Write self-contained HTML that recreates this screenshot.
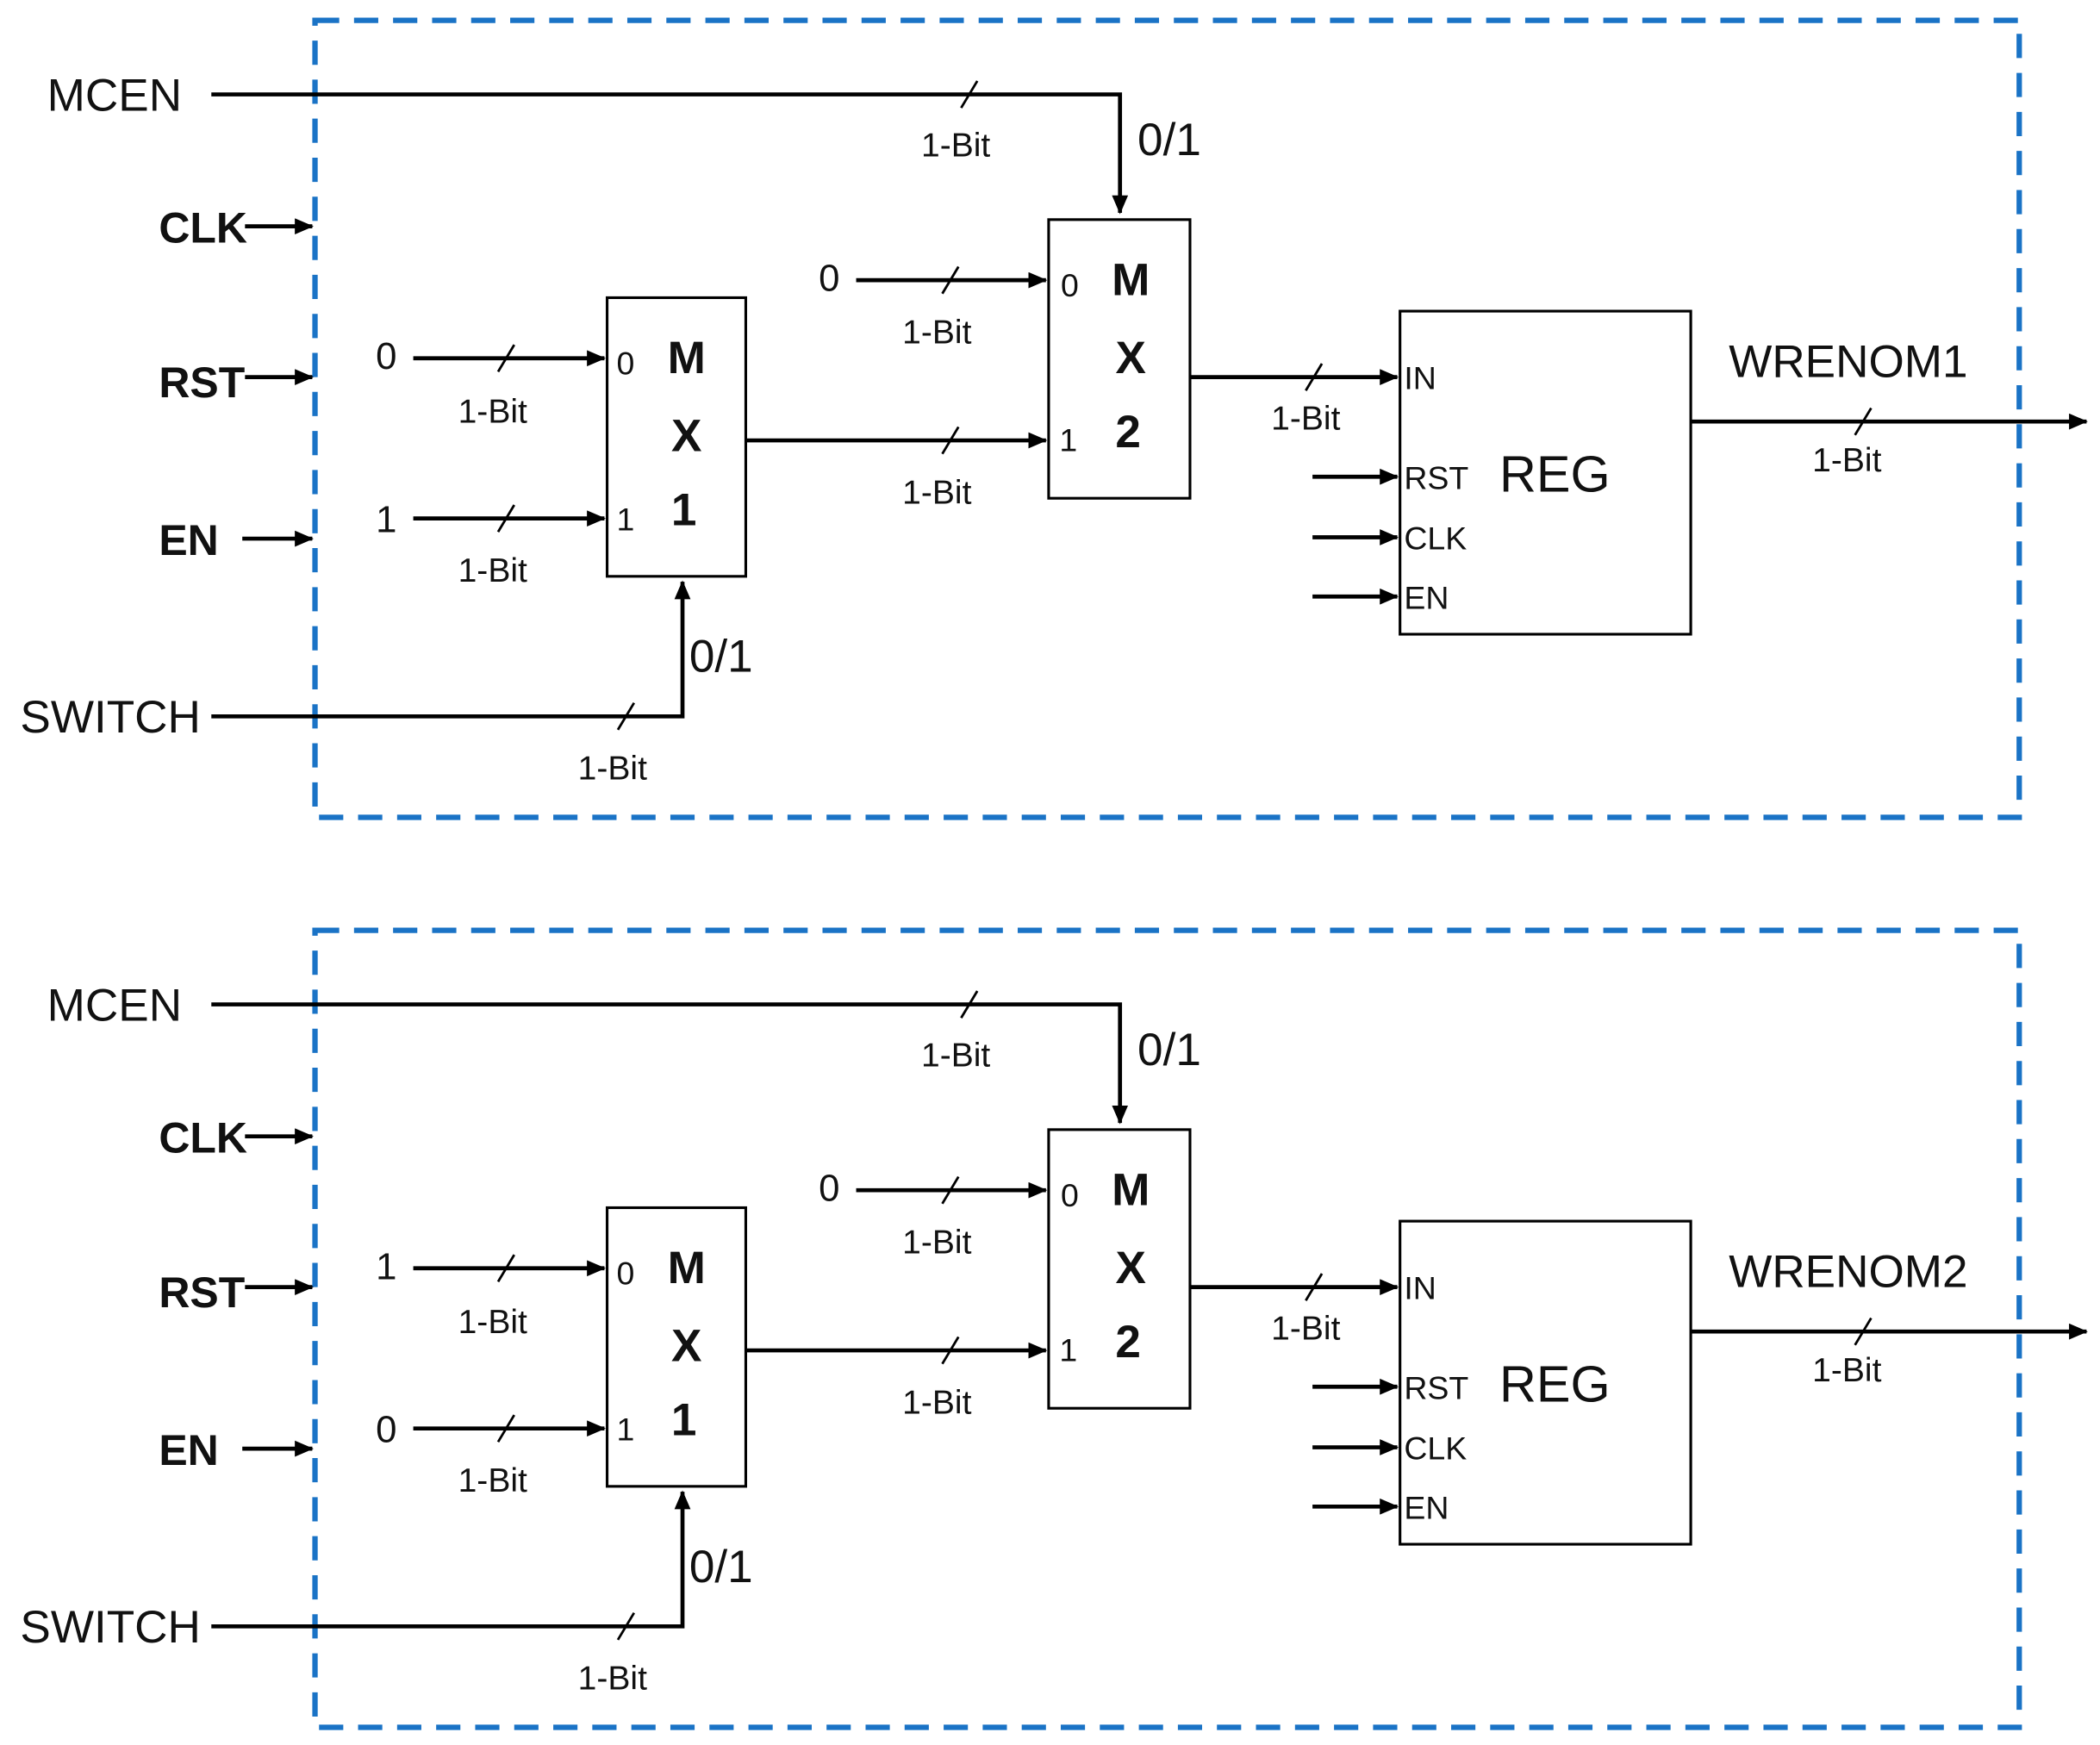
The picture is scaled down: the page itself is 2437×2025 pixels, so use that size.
<!DOCTYPE html>
<html><head><meta charset="utf-8"><style>
html,body{margin:0;padding:0;background:#fff;}
svg{display:block;}
text{font-family:"Liberation Sans",sans-serif;fill:#111;}
</style></head><body>
<svg width="2437" height="2025" viewBox="0 0 1560 1296" xmlns="http://www.w3.org/2000/svg">
<defs>
<marker id="a" markerWidth="14" markerHeight="12" refX="13" refY="6" orient="auto" markerUnits="userSpaceOnUse">
<path d="M0,0 L14,6 L0,12 Z" fill="#000"/></marker>
<g id="blk">
<rect x="234" y="15" width="1266" height="592" fill="none" stroke="#1a73c6" stroke-width="4" stroke-dasharray="18,11"/>
<g stroke="#000" stroke-width="3" fill="none">
<polyline points="157,70 832,70 832,158" marker-end="url(#a)"/>
<line x1="182" y1="168" x2="232" y2="168" marker-end="url(#a)"/>
<line x1="182" y1="280" x2="232" y2="280" marker-end="url(#a)"/>
<line x1="180" y1="400" x2="232" y2="400" marker-end="url(#a)"/>
<polyline points="157,532 507,532 507,432" marker-end="url(#a)"/>
<line x1="307" y1="266" x2="449" y2="266" marker-end="url(#a)"/>
<line x1="307" y1="385" x2="449" y2="385" marker-end="url(#a)"/>
<line x1="554" y1="327" x2="777" y2="327" marker-end="url(#a)"/>
<line x1="636" y1="208" x2="777" y2="208" marker-end="url(#a)"/>
<line x1="884" y1="280" x2="1038" y2="280" marker-end="url(#a)"/>
<line x1="975" y1="354" x2="1038" y2="354" marker-end="url(#a)"/>
<line x1="975" y1="399" x2="1038" y2="399" marker-end="url(#a)"/>
<line x1="975" y1="443" x2="1038" y2="443" marker-end="url(#a)"/>
<line x1="1256" y1="313" x2="1550" y2="313" marker-end="url(#a)"/>
</g>
<g stroke="#000" stroke-width="2" fill="#fff">
<rect x="451" y="221" width="103" height="207"/>
<rect x="779" y="163" width="105" height="207"/>
<rect x="1040" y="231" width="216" height="240"/>
</g>
<g stroke="#000" stroke-width="1.8">
<line x1="714" y1="80" x2="726" y2="60"/>
<line x1="459" y1="542" x2="471" y2="522"/>
<line x1="370" y1="276" x2="382" y2="256"/>
<line x1="370" y1="395" x2="382" y2="375"/>
<line x1="700" y1="337" x2="712" y2="317"/>
<line x1="700" y1="218" x2="712" y2="198"/>
<line x1="970" y1="290" x2="982" y2="270"/>
<line x1="1378" y1="323" x2="1390" y2="303"/>
</g>
<g font-size="25" text-anchor="middle">
<text x="710" y="116">1-Bit</text>
<text x="455" y="579">1-Bit</text>
<text x="366" y="314">1-Bit</text>
<text x="366" y="432">1-Bit</text>
<text x="696" y="374">1-Bit</text>
<text x="696" y="255">1-Bit</text>
<text x="970" y="319">1-Bit</text>
<text x="1372" y="350">1-Bit</text>
</g>
<text x="35" y="82" font-size="34">MCEN</text>
<text x="15" y="544" font-size="34">SWITCH</text>
<text x="845" y="115" font-size="34">0/1</text>
<text x="512" y="499" font-size="34">0/1</text>
<g font-size="32" font-weight="bold">
<text x="118" y="180">CLK</text>
<text x="118" y="295">RST</text>
<text x="118" y="412">EN</text>
</g>
<text x="616" y="216" font-size="28" text-anchor="middle">0</text>
<g font-size="24">
<text x="458" y="278">0</text>
<text x="458" y="394">1</text>
<text x="788" y="220">0</text>
<text x="787" y="335">1</text>
<text x="1043" y="289">IN</text>
<text x="1043" y="363">RST</text>
<text x="1043" y="408">CLK</text>
<text x="1043" y="452">EN</text>
</g>
<g font-size="34" font-weight="bold" text-anchor="middle">
<text x="510" y="277">M</text>
<text x="510" y="335">X</text>
<text x="508" y="390">1</text>
<text x="840" y="219">M</text>
<text x="840" y="277">X</text>
<text x="838" y="332">2</text>
</g>
<text x="1155" y="365" font-size="38" text-anchor="middle">REG</text>
</g>
</defs>
<use href="#blk"/>
<text x="287" y="274" font-size="28" text-anchor="middle">0</text>
<text x="287" y="395" font-size="28" text-anchor="middle">1</text>
<text x="1373" y="280" font-size="34" text-anchor="middle">WRENOM1</text>
<g transform="translate(0,676)">
<use href="#blk"/>
<text x="287" y="274" font-size="28" text-anchor="middle">1</text>
<text x="287" y="395" font-size="28" text-anchor="middle">0</text>
<text x="1373" y="280" font-size="34" text-anchor="middle">WRENOM2</text>
</g>
</svg>
</body></html>
